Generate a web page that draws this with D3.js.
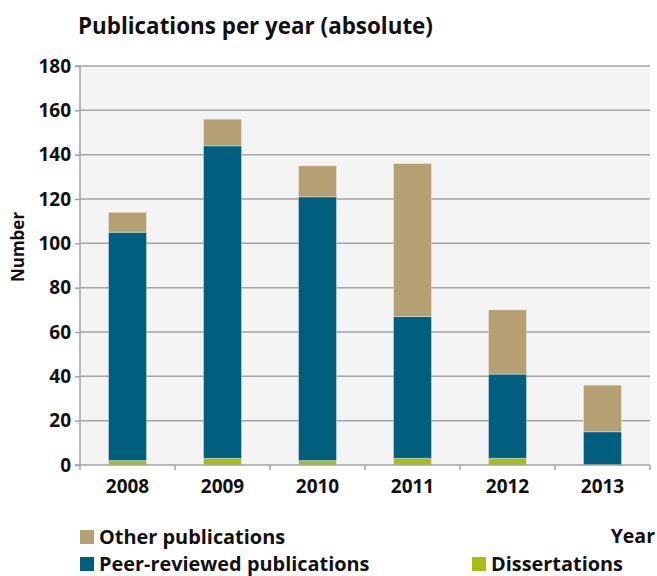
<!DOCTYPE html>
<html>
<head>
<meta charset="utf-8">
<script src="https://cdn.jsdelivr.net/npm/d3@7"></script>
<style>
  html, body { margin: 0; padding: 0; background: #ffffff; }
  svg { display: block; font-family: "Open Sans", "Noto Sans", sans-serif; font-weight: 700; }
</style>
</head>
<body>
<svg id="chart" width="657" height="576"></svg>
<script>
// Publications per year, stacked by type
const years = ["2008", "2009", "2010", "2011", "2012", "2013"];
const dissertations = [2, 3, 2, 3, 3, 0];
const peerReviewed = [103, 141, 119, 64, 38, 15];
const otherPublications = [9, 12, 14, 69, 29, 21];
const yTicks = [0, 20, 40, 60, 80, 100, 120, 140, 160, 180];

const seriesKeys = ["dissertations", "peer", "other"];
const seriesNames = {
  other: "Other publications",
  peer: "Peer-reviewed publications",
  dissertations: "Dissertations"
};
const colors = { dissertations: "#a7bd13", peer: "#005f7f", other: "#b5a074" };

const rows = years.map((y, i) => ({
  year: y,
  dissertations: dissertations[i],
  peer: peerReviewed[i],
  other: otherPublications[i]
}));

const svg = d3.select("#chart");
const plotLeft = 80, plotRight = 650, plotTop = 66, plotBottom = 465;

const x = d3.scaleBand().domain(years).range([plotLeft, plotRight]).paddingInner(0.6).paddingOuter(0.3);
const xTicks = d3.scaleBand().domain(years).range([plotLeft, plotRight]);
const y = d3.scaleLinear().domain([0, 180]).range([plotBottom, plotTop]);

// plot background
svg.append("rect").attr("x", plotLeft).attr("y", plotTop)
  .attr("width", plotRight - plotLeft).attr("height", plotBottom - plotTop).attr("fill", "#f4f4f4");

// gridlines
svg.append("g").selectAll("line").data(yTicks.filter(d => d > 0)).join("line")
  .attr("x1", plotLeft).attr("x2", plotRight)
  .attr("y1", d => y(d)).attr("y2", d => y(d))
  .attr("stroke", "#a3a3a3").attr("stroke-width", 1.5);

// stacked bars
const stack = d3.stack().keys(seriesKeys)(rows);
svg.append("g").selectAll("g").data(stack).join("g")
  .attr("fill", d => colors[d.key])
  .selectAll("rect").data(d => d.filter(p => p[1] - p[0] > 0)).join("rect")
  .attr("x", d => x(d.data.year))
  .attr("width", x.bandwidth())
  .attr("y", d => y(d[1]))
  .attr("height", d => y(d[0]) - y(d[1]))
  .attr("stroke", "rgba(255,255,255,0.35)").attr("stroke-width", 1);

// y axis
const yAxis = svg.append("g").attr("transform", `translate(${plotLeft},0)`)
  .call(d3.axisLeft(y).tickValues(yTicks).tickSize(5).tickPadding(4));
yAxis.select(".domain").attr("stroke", "#a3a3a3").attr("stroke-width", 1.5)
  .attr("d", `M-5,${plotTop}H0V${plotBottom}H-5`);
yAxis.selectAll(".tick line").attr("stroke", "#a3a3a3").attr("stroke-width", 1.5);
yAxis.selectAll(".tick text").attr("fill", "#111").attr("font-size", 19)
  .attr("font-weight", 700).attr("font-family", "Open Sans, Noto Sans, sans-serif");

// x axis
const xAxis = svg.append("g").attr("transform", `translate(0,${plotBottom})`)
  .call(d3.axisBottom(x).tickSize(0).tickPadding(10));
xAxis.select(".domain").attr("stroke", "#a3a3a3").attr("stroke-width", 1.5)
  .attr("d", `M${plotLeft},0H${plotRight}`);
xAxis.selectAll(".tick text").attr("fill", "#111").attr("font-size", 19)
  .attr("font-weight", 700).attr("font-family", "Open Sans, Noto Sans, sans-serif")
  .attr("dy", "0.95em");
svg.append("g").selectAll("line")
  .data(years.map(d => xTicks(d)).concat([plotRight])).join("line")
  .attr("x1", d => d).attr("x2", d => d)
  .attr("y1", plotBottom).attr("y2", plotBottom + 5)
  .attr("stroke", "#a3a3a3").attr("stroke-width", 1.5);

// title
svg.append("text").attr("x", 78).attr("y", 34)
  .attr("font-size", 22.4).attr("fill", "#111")
  .text("Publications per year (absolute)");

// axis titles
svg.append("text").attr("transform", "translate(24,247) rotate(-90)")
  .attr("text-anchor", "middle").attr("font-size", 17).attr("fill", "#111")
  .text("Number");
svg.append("text").attr("x", 655).attr("y", 543)
  .attr("text-anchor", "end").attr("font-size", 19.5).attr("fill", "#111")
  .text("Year");

// legend
const legendItems = [
  { key: "other", x: 80, y: 537 },
  { key: "peer", x: 80, y: 564 },
  { key: "dissertations", x: 472, y: 564 }
];
const lg = svg.append("g").selectAll("g").data(legendItems).join("g")
  .attr("transform", d => `translate(${d.x},${d.y})`);
lg.append("rect").attr("x", 0).attr("y", -7).attr("width", 14).attr("height", 14)
  .attr("fill", d => colors[d.key]);
lg.append("text").attr("x", 19).attr("y", 0).attr("dy", "0.35em")
  .attr("font-size", 19.9).attr("fill", "#111")
  .text(d => seriesNames[d.key]);
</script>
</body>
</html>
